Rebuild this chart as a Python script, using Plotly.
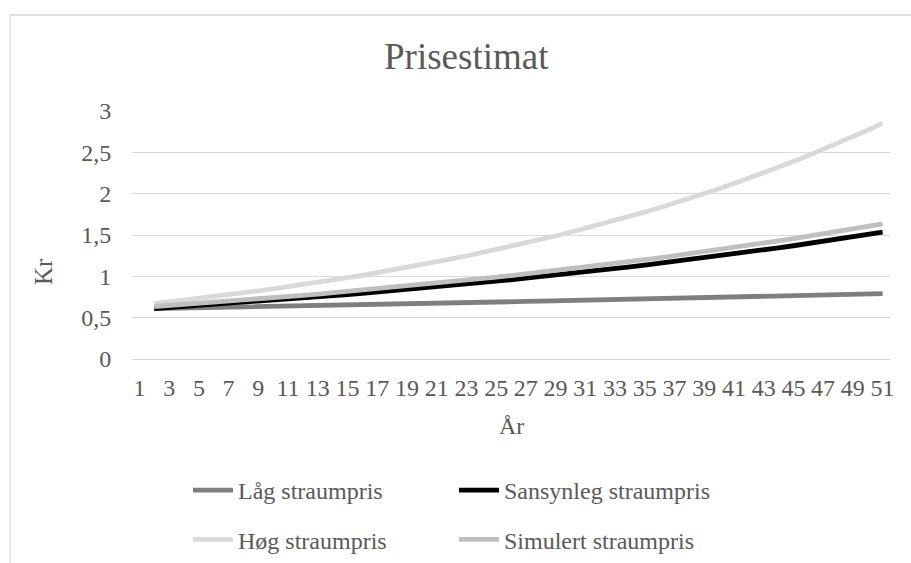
import plotly.graph_objects as go

years = list(range(1, 52))
tick_years = list(range(1, 52, 2))

laag = [None,
        0.610, 0.613, 0.616, 0.620, 0.623, 0.626, 0.630, 0.633, 0.636, 0.640,
        0.643, 0.646, 0.650, 0.653, 0.657, 0.660, 0.664, 0.667, 0.671, 0.674,
        0.678, 0.682, 0.685, 0.689, 0.692, 0.696, 0.700, 0.704, 0.707, 0.711,
        0.715, 0.719, 0.723, 0.726, 0.730, 0.734, 0.738, 0.742, 0.746, 0.750,
        0.754, 0.758, 0.762, 0.766, 0.770, 0.774, 0.778, 0.782, 0.786, 0.790]

sansynleg = [None,
             0.610, 0.622, 0.633, 0.645, 0.658, 0.670, 0.683, 0.696, 0.709, 0.723,
             0.736, 0.750, 0.765, 0.779, 0.794, 0.809, 0.824, 0.840, 0.856, 0.872,
             0.889, 0.906, 0.923, 0.940, 0.958, 0.977, 0.995, 1.014, 1.033, 1.053,
             1.073, 1.093, 1.114, 1.135, 1.157, 1.179, 1.201, 1.224, 1.247, 1.271,
             1.295, 1.320, 1.345, 1.370, 1.396, 1.423, 1.450, 1.478, 1.506, 1.534]

hoeg = [None,
        0.670, 0.690, 0.711, 0.732, 0.754, 0.777, 0.800, 0.824, 0.849, 0.874,
        0.900, 0.927, 0.955, 0.984, 1.013, 1.044, 1.075, 1.107, 1.141, 1.175,
        1.210, 1.246, 1.284, 1.322, 1.362, 1.403, 1.445, 1.488, 1.533, 1.579,
        1.626, 1.675, 1.725, 1.777, 1.830, 1.885, 1.942, 2.000, 2.060, 2.122,
        2.186, 2.251, 2.319, 2.388, 2.460, 2.534, 2.610, 2.688, 2.769, 2.852]

simulert = [None,
            0.635, 0.647, 0.660, 0.673, 0.686, 0.699, 0.713, 0.727, 0.741, 0.756,
            0.770, 0.785, 0.801, 0.816, 0.832, 0.848, 0.865, 0.882, 0.899, 0.917,
            0.934, 0.953, 0.971, 0.990, 1.009, 1.029, 1.049, 1.070, 1.090, 1.112,
            1.133, 1.156, 1.178, 1.201, 1.224, 1.248, 1.273, 1.297, 1.323, 1.349,
            1.375, 1.402, 1.429, 1.457, 1.485, 1.514, 1.544, 1.574, 1.605, 1.636]

series = [
    ("Låg straumpris", laag, "#7f7f7f", "legend"),
    ("Sansynleg straumpris", sansynleg, "#000000", "legend2"),
    ("Høg straumpris", hoeg, "#d9d9d9", "legend"),
    ("Simulert straumpris", simulert, "#bfbfbf", "legend2"),
]

FONT = "Liberation Serif, Times New Roman, serif"
TXT = "#595959"
GRID = "#d9d9d9"

fig = go.Figure()
for name, vals, col, lg in series:
    fig.add_trace(go.Scatter(
        x=years, y=vals, mode="lines", name=name,
        line=dict(color=col, width=4.8),
        legend=lg, legendgroup=name,
        hoverinfo="skip",
    ))

L, R, T, B = 132, 21, 111, 204
W, H = 911, 563
pw, ph = W - L - R, H - T - B

def px(x):
    return (x - L) / pw

def py(y):
    return (H - B - y) / ph

fig.update_layout(
    width=W, height=H,
    margin=dict(l=L, r=R, t=T, b=B, pad=0, autoexpand=False),
    paper_bgcolor="white", plot_bgcolor="white",
    font=dict(family=FONT, size=24, color=TXT),
    separators=", ",
    showlegend=True,
    xaxis=dict(
        range=[0.5, 51.5], tickmode="array", tickvals=tick_years,
        ticktext=[str(v) for v in tick_years],
        showgrid=False, zeroline=False, showline=False,
        ticks="outside", ticklen=0, ticklabelstandoff=7,
        tickfont=dict(family=FONT, size=24, color=TXT),
        fixedrange=True, automargin=False,
    ),
    yaxis=dict(
        range=[0, 3], dtick=0.5, tick0=0,
        showgrid=True, gridcolor=GRID, gridwidth=1.3,
        zeroline=True, zerolinecolor=GRID, zerolinewidth=1.3, showline=False,
        ticks="outside", ticklen=0, ticklabelstandoff=15,
        tickfont=dict(family=FONT, size=24, color=TXT),
        fixedrange=True, automargin=False,
    ),
    legend=dict(
        orientation="v", xref="container", yref="container",
        x=188 / W, y=1 - 468 / H, xanchor="left", yanchor="top",
        font=dict(family=FONT, size=24, color=TXT),
        tracegroupgap=15, itemwidth=40, bgcolor="rgba(0,0,0,0)",
    ),
    legend2=dict(
        orientation="v", xref="container", yref="container",
        x=454 / W, y=1 - 468 / H, xanchor="left", yanchor="top",
        font=dict(family=FONT, size=24, color=TXT),
        tracegroupgap=15, itemwidth=40, bgcolor="rgba(0,0,0,0)",
    ),
    shapes=[dict(
        type="rect", xref="paper", yref="paper",
        x0=px(10), x1=px(W + 20), y0=py(H + 20), y1=py(15),
        line=dict(color=GRID, width=1.3), fillcolor="rgba(0,0,0,0)", layer="below",
    )],
    annotations=[
        dict(text="Prisestimat", xref="paper", yref="paper",
             x=px(466), y=py(57), xanchor="center", yanchor="middle",
             showarrow=False, font=dict(family=FONT, size=37, color=TXT)),
        dict(text="Kr", xref="paper", yref="paper",
             x=px(43), y=py(272), xanchor="center", yanchor="middle",
             textangle=-90, showarrow=False,
             font=dict(family=FONT, size=25, color=TXT)),
        dict(text="År", xref="paper", yref="paper",
             x=0.5, y=py(426), xanchor="center", yanchor="middle",
             showarrow=False, font=dict(family=FONT, size=24, color=TXT)),
    ],
)

fig.write_html("out.html", config={"displayModeBar": False})
